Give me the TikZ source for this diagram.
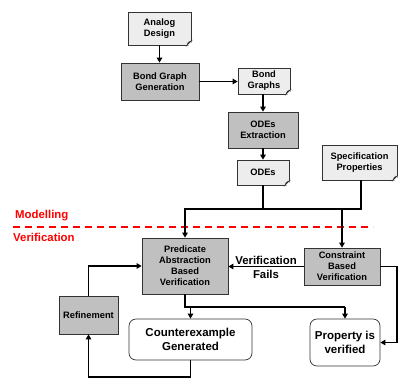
\documentclass[tikz,border=0pt]{standalone}
\usepackage{fontspec}
\setmainfont{Liberation Sans}
\usetikzlibrary{arrows.meta}
\definecolor{procfill}{HTML}{C0C0C0}
\definecolor{docfill}{HTML}{EDEDED}
\definecolor{boxline}{HTML}{333333}
\definecolor{sepred}{HTML}{FF0000}
\newcommand\docfold[1]{%
  \fill[white] ([xshift=-4.5pt]#1.south east) -- ([xshift=1pt,yshift=-1pt]#1.south east) -- ([yshift=4.5pt]#1.south east) -- cycle;
  \filldraw[boxline, line width=0.6pt] ([xshift=-4.5pt]#1.south east) -- ([yshift=4.5pt]#1.south east) -- ([xshift=-3pt,yshift=3pt]#1.south east) -- cycle;}
\tikzset{
  base/.style={draw=boxline, line width=0.7pt, align=center, inner sep=1pt,
    font=\bfseries\fontsize{9.3}{11}\selectfont},
  proc/.style={base, fill=procfill},
  doc/.style={base, fill=docfill},
  result/.style={base, fill=white, rounded corners=7pt,
    font=\bfseries\fontsize{11.5}{13.5}\selectfont},
  flow/.style={line width=1.6pt, black},
  arr/.style={flow, -{Triangle[length=5pt,width=5.5pt]}},
  sep/.style={sepred, line width=1.5pt, dash pattern=on 7pt off 5pt},
  seplabel/.style={text=sepred, anchor=west, inner sep=0pt,
    font=\bfseries\fontsize{11.4}{13}\selectfont}
}
\begin{document}
\begin{tikzpicture}[x=1pt, y=-1pt]
\useasboundingbox (0,0) rectangle (398,380);

% modelling stage
\node[doc, minimum width=63pt, minimum height=33pt] (ad) at (159.5,28.5) {Analog\\Design};
\node[proc, minimum width=78pt, minimum height=37pt] (bgg) at (160,81.5) {Bond Graph\\Generation};
\node[doc, minimum width=52pt, minimum height=26pt] (bg) at (264,81) {Bond\\Graphs};
\node[proc, minimum width=70pt, minimum height=36pt] (ode) at (263,130) {ODEs\\Extraction};
\node[doc, minimum width=52pt, minimum height=25pt] (odes) at (263,172.5) {ODEs};
\node[doc, minimum width=75pt, minimum height=35pt] (spec) at (359.5,162.5) {Specification\\Properties};
\docfold{ad}
\docfold{bg}
\docfold{odes}
\docfold{spec}

% verification stage
\node[proc, minimum width=86pt, minimum height=56pt] (pab) at (185,266) {Predicate\\Abstraction\\Based\\Verification};
\node[proc, minimum width=76pt, minimum height=37pt] (cbv) at (342,266.5) {Constraint\\Based\\Verification};
\node[proc, minimum width=59pt, minimum height=38pt] (ref) at (88.5,315) {Refinement};
\node[result, minimum width=123pt, minimum height=41pt] (ce) at (190.5,339.5) {Counterexample\\Generated};
\node[result, minimum width=70pt, minimum height=47pt] (prop) at (345,342.5) {Property is\\verified};

% stage separator
\draw[sep] (13,227) -- (373,227);
\node[seplabel] (mlab) at (15,216) {Modelling};
\node[seplabel] (vlab) at (13,237.5) {Verification};

% routing helpers
\coordinate (bus) at (0,209);
\coordinate (split) at (0,307);
\coordinate (rt) at (397,0);
\coordinate (bot) at (0,377);

% connectors
\draw[arr] (ad.south) -- (ad.south |- bgg.north);
\draw[arr] (bgg.east) -- (bgg.east -| bg.west);
\draw[arr] (bg.south -| ode.north) -- (ode.north);
\draw[arr] (ode.south) -- (odes.north);
\draw[flow] (odes.south) -- (odes.south |- bus);
\draw[arr] ([xshift=1.5pt]spec.south) |- (pab.north |- bus) -- (pab.north);
\draw[arr] (cbv.north |- bus) -- (cbv.north);
\draw[arr] (cbv.west) -- (cbv.west -| pab.east)
  node[midway, font=\bfseries\fontsize{11.4}{13.5}\selectfont, align=center, inner sep=0pt, yshift=-1pt] (vf) {Verification\\Fails};
\draw[arr] (ref.north) |- (pab.west);
\draw[flow] (pab.south) -- (pab.south |- split) -- (prop.north |- split);
\draw[arr] (ce.north |- split) -- (ce.north);
\draw[arr] (prop.north |- split) -- (prop.north);
\draw[arr] (cbv.east) -- (cbv.east -| rt) |- (prop.east);
\draw[arr] (ce.south) -- (ce.south |- bot) -| (ref.south);
\end{tikzpicture}
\end{document}
